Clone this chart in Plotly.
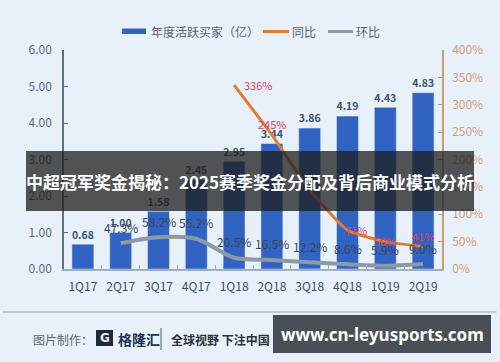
import plotly.graph_objects as go

# ---------------- data ----------------
quarters = ["1Q17", "2Q17", "3Q17", "4Q17", "1Q18", "2Q18", "3Q18", "4Q18", "1Q19", "2Q19"]
buyers = [0.68, 1.00, 1.58, 2.45, 2.95, 3.44, 3.86, 4.19, 4.43, 4.83]
yoy = [None, None, None, None, 336, 245, 144, 71, 50, 41]
yoy_labels = ["", "", "", "", "336%", "245%", "", "71%", "50%", "41%"]
qoq = [None, 47.3, 58.2, 55.2, 20.5, 16.5, 12.2, 8.6, 5.9, 9.0]
qoq_labels = ["", "47.3%", "58.2%", "55.2%", "20.5%", "16.5%", "12.2%", "8.6%", "5.9%", "9.0%"]
left_ticks = [0, 1, 2, 3, 4, 5, 6]
left_tick_text = ["0.00", "1.00", "2.00", "3.00", "4.00", "5.00", "6.00"]
right_ticks = [0, 50, 100, 150, 200, 250, 300, 350, 400]
right_tick_text = ["0%", "50%", "100%", "150%", "200%", "250%", "300%", "350%", "400%"]
title_text = "中超冠军奖金揭秘：2025赛季奖金分配及背后商业模式分析"
legend_names = ["年度活跃买家（亿）", "同比", "环比"]

# ---------------- styles ----------------
BAR = "#3163c2"
ORANGE = "#e27b30"
GRAY = "#8d99a4"
FONT = "Noto Sans CJK SC"
yoy_shift = [(0, 0), (0, 0), (0, 0), (0, 0), (24, 0), (0, 11), (0, 0), (8, 0), (0, 1), (0, 11)]

# plot area in pixels
L, R, T, B = 64, 442, 50, 269
W, H = 500, 362


def px(x):
    return (x - L) / (R - L)


def py(y):
    return (B - y) / (B - T)


def note(x, y, text, size, color, family=FONT, xanchor="center"):
    return dict(xref="paper", yref="paper", x=px(x), y=py(y), xanchor=xanchor,
                yanchor="middle", text=text, showarrow=False,
                font=dict(color=color, size=size, family=family))


fig = go.Figure()
fig.add_trace(go.Bar(
    x=quarters, y=buyers, marker_color=BAR, width=0.58,
    text=[f"<b>{v:.2f}</b>" for v in buyers], textposition="outside",
    textfont=dict(color="#3d5573", size=12, family=FONT),
    cliponaxis=False, name=legend_names[0],
))
fig.add_trace(go.Scatter(
    x=quarters, y=qoq, yaxis="y2", mode="lines",
    line=dict(color=GRAY, width=4, shape="spline", smoothing=0.8),
    name=legend_names[2],
))
fig.add_trace(go.Scatter(
    x=quarters, y=yoy, yaxis="y2", mode="lines",
    line=dict(color=ORANGE, width=3, shape="spline", smoothing=0.5),
    name=legend_names[1],
))

annotations = []
for q, v, t in zip(quarters, qoq, qoq_labels):
    if v is None or not t:
        continue
    annotations.append(dict(x=q, y=v, xref="x", yref="y2", text=t, showarrow=False,
                            yanchor="middle", yshift=16,
                            font=dict(color="#3a4757", size=12, family=FONT)))
for q, v, t, (dx, dy) in zip(quarters, yoy, yoy_labels, yoy_shift):
    if v is None or not t:
        continue
    annotations.append(dict(x=q, y=v, xref="x", yref="y2", text=t, showarrow=False,
                            yanchor="middle", xshift=dx, yshift=dy,
                            font=dict(color="#d9406b", size=11, family=FONT)))

shapes = []
# legend
shapes.append(dict(type="rect", xref="paper", yref="paper", x0=px(122), x1=px(146),
                   y0=py(34), y1=py(28.5), fillcolor=BAR, line=dict(width=0)))
shapes.append(dict(type="line", xref="paper", yref="paper", x0=px(263), x1=px(289),
                   y0=py(31.5), y1=py(31.5), line=dict(color=ORANGE, width=3)))
shapes.append(dict(type="line", xref="paper", yref="paper", x0=px(328), x1=px(353),
                   y0=py(31.5), y1=py(31.5), line=dict(color=GRAY, width=3)))
annotations.append(note(149, 31.5, legend_names[0], 12, "#5b6470", xanchor="left"))
annotations.append(note(290, 31.5, legend_names[1], 12, "#5b6470", xanchor="left"))
annotations.append(note(354, 31.5, legend_names[2], 12, "#5b6470", xanchor="left"))

# title band overlay
shapes.append(dict(type="rect", xref="paper", yref="paper", x0=px(26), x1=px(474),
                   y0=py(211), y1=py(151), fillcolor="rgba(30,30,30,0.75)",
                   line=dict(width=0), layer="above"))
annotations.append(note(250, 181, "<b>" + title_text + "</b>", 17, "white"))

# footer
shapes.append(dict(type="line", xref="paper", yref="paper", x0=px(3), x1=px(497),
                   y0=py(312), y1=py(312), line=dict(color="#97a3ae", width=1)))
annotations.append(note(31, 339, "图片制作：", 12, "#5d6670", xanchor="left"))
shapes.append(dict(type="rect", xref="paper", yref="paper", x0=px(96), x1=px(113),
                   y0=py(346), y1=py(330), fillcolor="#1f2a36", line=dict(width=0)))
annotations.append(note(104.5, 338, "<b>G</b>", 12, "#e6eef6", family="DejaVu Sans"))
annotations.append(note(116, 339, "<b>格隆汇</b>", 14, "#1f3552", xanchor="left"))
shapes.append(dict(type="line", xref="paper", yref="paper", x0=px(161), x1=px(161),
                   y0=py(350), y1=py(328), line=dict(color="#555f69", width=1)))
annotations.append(note(169, 339, "<b>全球视野 下注中国</b>", 12, "#2a333d", xanchor="left"))
shapes.append(dict(type="rect", xref="paper", yref="paper", x0=px(273), x1=px(491),
                   y0=py(353), y1=py(315), fillcolor="#4a4f55", line=dict(width=0), layer="above"))
annotations.append(note(382, 334, "<b>www.cn-leyusports.com</b>", 17, "white", family="Noto Sans"))

fig.update_layout(
    width=W, height=H,
    margin=dict(l=L, r=W - R, t=T, b=H - B, pad=0, autoexpand=False),
    paper_bgcolor="#e8f1f9", plot_bgcolor="rgba(0,0,0,0)",
    showlegend=False, bargap=0.42,
    font=dict(family=FONT),
    xaxis=dict(type="category", range=[-0.5, 9.5], showgrid=False, showline=True,
               linecolor="#9db0c6", linewidth=1.5, ticks="inside", tickson="boundaries",
               ticklen=4, tickcolor="#9db0c6", tickangle=0, automargin=False,
               ticklabelstandoff=6,
               tickfont=dict(color="#3f4f63", size=12, family=FONT)),
    yaxis=dict(range=[0, 6], tickvals=left_ticks, ticktext=left_tick_text, showgrid=False,
               zeroline=False, showline=True, linecolor="#5e7284", linewidth=1.5,
               ticks="inside", ticklen=4, tickcolor="#5e7284", automargin=False,
               tickfont=dict(color="#5b6c7c", size=12, family=FONT), ticklabelstandoff=8),
    yaxis2=dict(range=[0, 400], overlaying="y", side="right", tickvals=right_ticks,
                ticktext=right_tick_text, showgrid=False, zeroline=False, showline=True,
                linecolor="#c99c78", linewidth=1.5, ticks="inside", ticklen=4,
                tickcolor="#c99c78", tickfont=dict(color="#d2a07c", size=12, family=FONT),
                ticklabelstandoff=6, automargin=False),
    shapes=shapes, annotations=annotations,
)

fig.write_html("out.html")
